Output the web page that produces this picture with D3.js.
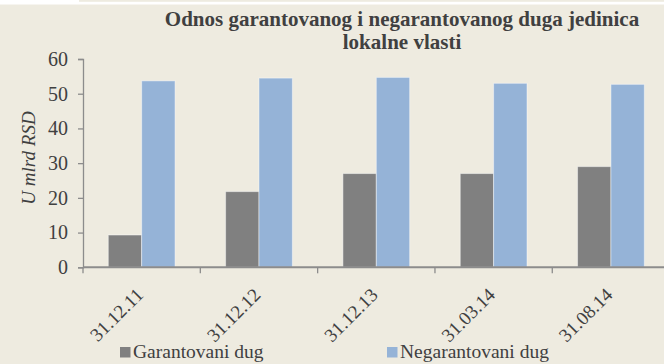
<!DOCTYPE html>
<html>
<head>
<meta charset="utf-8">
<script src="https://cdn.jsdelivr.net/npm/d3@7/dist/d3.min.js"></script>
</head>
<body style="margin:0">
<svg id="chart" width="664" height="364" style="display:block"></svg>
<script>
// Dates of the observations
const categories = ["31.12.11", "31.12.12", "31.12.13", "31.03.14", "31.08.14"];
// Debt of local governments, billions of RSD
const guaranteed = [9.3, 21.8, 27.0, 27.0, 29.0];
const nonGuaranteed = [53.7, 54.5, 54.7, 53.0, 52.7];
const seriesNames = ["Garantovani dug", "Negarantovani dug"];
const yTicks = [0, 10, 20, 30, 40, 50, 60];

const colors = ["#808080", "#95b3d7"];
const SERIF = '"Times New Roman", "Liberation Serif", Tinos, serif';

const svg = d3.select("#chart").style("font-family", SERIF);
const W = 664, H = 364;

// Page background with a thin band along the top edge
svg.append("rect").attr("x", 0).attr("y", 0).attr("width", W).attr("height", H).attr("fill", "#eeebe0");
svg.append("rect").attr("x", 0).attr("y", 0).attr("width", W).attr("height", 4.5).attr("fill", "#ffffff");
svg.append("rect").attr("x", 79).attr("y", 0).attr("width", W - 79).attr("height", 1.8).attr("fill", "#eeebe0");

const plot = { left: 83, right: 669.6, top: 59, bottom: 267.3 };

const x = d3.scaleBand()
  .domain(categories)
  .range([plot.left, plot.right])
  .paddingInner(0.431)
  .paddingOuter(0.2155);

const xs = d3.scaleBand()
  .domain([0, 1])
  .range([0, x.bandwidth()]);

const y = d3.scaleLinear()
  .domain([0, 60])
  .range([plot.bottom, plot.top]);

const rows = categories.map((c, i) => ({ cat: c, vals: [guaranteed[i], nonGuaranteed[i]] }));

// Bars
const groups = svg.append("g").selectAll("g")
  .data(rows)
  .join("g")
  .attr("transform", d => `translate(${x(d.cat)},0)`);

groups.selectAll("rect")
  .data(d => d.vals.map((v, k) => ({ v, k })))
  .join("rect")
  .attr("x", d => xs(d.k))
  .attr("y", d => y(d.v))
  .attr("width", xs.bandwidth())
  .attr("height", d => y(0) - y(d.v))
  .attr("fill", d => colors[d.k])
  .attr("stroke", "rgba(255,255,255,0.45)")
  .attr("stroke-width", 1);

// Y axis
const yAxis = d3.axisLeft(y).tickValues(yTicks).tickSize(5).tickPadding(10);
const gy = svg.append("g")
  .attr("transform", `translate(${plot.left},0)`)
  .call(yAxis);
gy.attr("font-family", null).attr("font-size", null);
gy.select(".domain").attr("stroke", "#8c8c8c").attr("stroke-width", 1.3);
gy.selectAll(".tick line").attr("stroke", "#8c8c8c").attr("stroke-width", 1.3);
gy.selectAll(".tick text")
  .style("font-family", SERIF)
  .style("font-size", "20px")
  .attr("fill", "#404040");

// X axis with ticks at category boundaries
const boundaries = d3.range(categories.length + 1).map(i => plot.left + i * x.step());
const gx = svg.append("g");
gx.append("line")
  .attr("x1", plot.left).attr("x2", W)
  .attr("y1", plot.bottom).attr("y2", plot.bottom)
  .attr("stroke", "#8c8c8c").attr("stroke-width", 2);
gx.selectAll("line.tk")
  .data(boundaries)
  .join("line")
  .attr("class", "tk")
  .attr("x1", d => d).attr("x2", d => d)
  .attr("y1", plot.bottom).attr("y2", plot.bottom + 6)
  .attr("stroke", "#8c8c8c").attr("stroke-width", 1.3);

gx.selectAll("text")
  .data(categories)
  .join("text")
  .attr("transform", d => `translate(${x(d) + x.bandwidth() / 2 - 2},${plot.bottom + 24}) rotate(-45)`)
  .attr("text-anchor", "end")
  .attr("dy", "0.35em")
  .style("font-family", SERIF)
  .style("font-size", "19px")
  .attr("fill", "#404040")
  .text(d => d);

// Y axis title
svg.append("text")
  .attr("transform", `translate(35,158) rotate(-90)`)
  .attr("text-anchor", "middle")
  .style("font-family", SERIF)
  .style("font-style", "italic")
  .style("font-size", "19px")
  .attr("fill", "#404040")
  .text("U mlrd RSD");

// Title
const title = svg.append("text")
  .attr("text-anchor", "middle")
  .style("font-family", SERIF)
  .style("font-weight", "bold")
  .style("font-size", "21px")
  .attr("fill", "#404040");
title.append("tspan").attr("x", 402).attr("y", 26).text("Odnos garantovanog i negarantovanog duga jedinica");
title.append("tspan").attr("x", 402).attr("y", 48.5).text("lokalne vlasti");

// Legend
const legendX = [120, 387];
const lg = svg.append("g").selectAll("g")
  .data(seriesNames)
  .join("g")
  .attr("transform", (d, i) => `translate(${legendX[i]},347)`);
lg.append("rect")
  .attr("x", 0).attr("y", 0).attr("width", 10.5).attr("height", 10.5)
  .attr("fill", (d, i) => colors[i]);
lg.append("text")
  .attr("x", 13).attr("y", 11)
  .style("font-family", SERIF)
  .style("font-size", "19.5px")
  .attr("fill", "#404040")
  .text(d => d);
</script>
</body>
</html>
